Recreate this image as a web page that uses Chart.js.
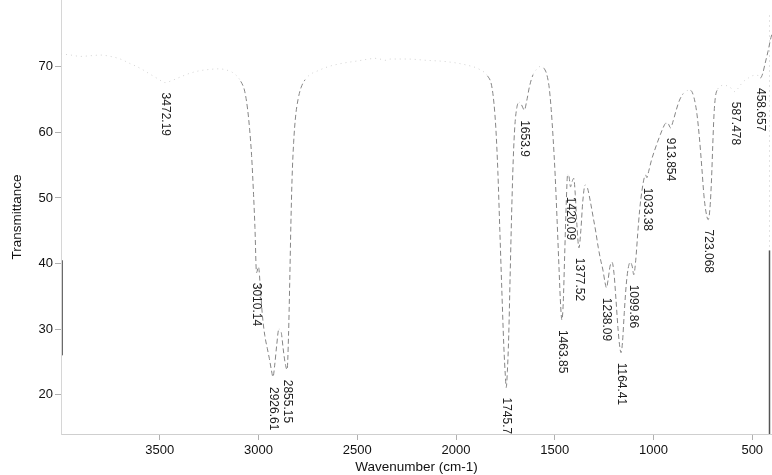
<!DOCTYPE html>
<html>
<head>
<meta charset="utf-8">
<script src="https://cdn.jsdelivr.net/npm/chart.js@4/dist/chart.umd.min.js"></script>
<style>
  html, body { margin: 0; padding: 0; background: #fff; }
  #wrap { width: 772px; height: 475px; }
</style>
</head>
<body>
<div id="wrap"><canvas id="ir" width="772" height="475"></canvas></div>
<script>
// FT-IR spectrum: wavenumber (cm-1) against % transmittance
const wavenumbers = [
  4000, 3950, 3900, 3850, 3800, 3750, 3700, 3650, 3600, 3550, 3510, 3472.19, 3440, 3400,
  3350, 3300, 3250, 3200, 3150, 3120, 3090, 3070, 3055, 3045, 3035, 3025, 3018, 3010.14,
  3000, 2990, 2980, 2968, 2955, 2945, 2935, 2926.61, 2918, 2908, 2897, 2885, 2875, 2866,
  2855.15, 2848, 2842, 2836, 2830, 2822, 2812, 2800, 2785, 2765, 2740, 2700, 2650, 2600,
  2500, 2400, 2360, 2330, 2250, 2150, 2050, 1950, 1880, 1840, 1820, 1808, 1798, 1788,
  1778, 1768, 1758, 1750, 1745.7, 1740, 1733, 1726, 1718, 1710, 1702, 1692, 1680, 1668,
  1653.9, 1642, 1628, 1610, 1590, 1570, 1555, 1540, 1528, 1518, 1508, 1498, 1488, 1478,
  1470, 1463.85, 1457, 1450, 1442, 1435, 1428, 1420.09, 1412, 1404, 1396, 1388, 1377.52,
  1368, 1358, 1346, 1334, 1320, 1305, 1292, 1280, 1268, 1256, 1246, 1238.09, 1230, 1220,
  1210, 1200, 1190, 1180, 1172, 1164.41, 1157, 1148, 1138, 1128, 1118, 1108, 1099.86,
  1090, 1080, 1070, 1058, 1046, 1040, 1033.38, 1025, 1010, 995, 980, 965, 950, 938, 925,
  913.854, 900, 885, 870, 850, 830, 812, 795, 780, 767, 755, 745, 735, 723.068, 714, 706,
  700, 694, 687, 675, 660, 640, 620, 605, 587.478, 570, 550, 520, 490, 470, 458.657, 448,
  435, 420, 405, 400
];
const transmittance = [
  72.0, 71.8, 71.6, 71.7, 71.8, 71.6, 71.2, 70.5, 69.8, 68.9, 68.2, 67.6, 67.9, 68.4,
  69.0, 69.4, 69.6, 69.7, 69.4, 68.9, 67.8, 66.3, 63.5, 60.5, 56.5, 50.5, 45.5, 38.6,
  39.5, 36.0, 32.0, 29.0, 27.0, 25.5, 23.8, 22.7, 24.5, 27.5, 30.0, 29.5, 27.0, 25.0,
  23.8, 29.0, 37.0, 46.0, 53.0, 58.5, 62.5, 65.0, 66.8, 68.0, 68.8, 69.4, 70.0, 70.4,
  70.9, 71.3, 71.0, 71.2, 71.2, 71.0, 70.8, 70.3, 69.6, 68.6, 67.2, 64.5, 60.5, 54.0,
  45.0, 36.0, 27.5, 22.8, 21.1, 23.5, 29.0, 38.0, 48.0, 56.0, 61.0, 63.8, 64.6, 64.2,
  63.4, 64.8, 67.0, 68.8, 69.7, 70.1, 69.8, 68.8, 66.8, 63.5, 59.0, 53.5, 46.5, 39.0,
  33.5, 31.4, 34.0, 41.0, 49.0, 53.5, 53.3, 51.7, 52.5, 53.0, 50.5, 46.0, 42.4,
  45.0, 49.5, 52.0, 51.5, 49.5, 47.0, 44.8, 42.5, 40.6, 39.0, 37.2, 36.3, 37.5, 39.6,
  40.2, 38.5, 34.5, 30.2, 27.6, 26.4, 28.0, 32.5, 36.8, 39.3, 40.2, 39.6, 38.3,
  40.5, 44.5, 48.2, 51.2, 53.2, 53.5, 53.1, 54.0, 55.8, 57.2, 58.5, 59.7, 60.8, 61.4, 61.3,
  60.7, 61.8, 63.4, 64.8, 65.9, 66.4, 66.4, 65.3, 62.8, 59.0, 54.5, 50.5, 48.0, 46.7, 48.5, 53.0,
  58.0, 62.5, 65.3, 66.6, 67.1, 67.2, 67.0, 66.7, 66.2, 66.8, 67.6, 68.3, 68.7, 68.7, 68.3, 68.9,
  70.5, 72.4, 74.5, 75.0
];

// Peak positions that are annotated on the plot
const peakWavenumbers = [
  3472.19, 3010.14, 2926.61, 2855.15, 1745.7, 1653.9, 1463.85, 1420.09, 1377.52,
  1238.09, 1164.41, 1099.86, 1033.38, 913.854, 723.068, 587.478, 458.657
];

const xTickValues = [3500, 3000, 2500, 2000, 1500, 1000, 500];
const yTickValues = [20, 30, 40, 50, 60, 70];

const FONT = '"Liberation Sans", Arial, sans-serif';

// Rotated peak labels hanging just below each annotated minimum
const peakLabels = {
  id: 'peakLabels',
  afterDatasetsDraw(chart) {
    const meta = chart.getDatasetMeta(0);
    const ctx = chart.ctx;
    ctx.save();
    ctx.font = '12px ' + FONT;
    ctx.fillStyle = '#1e1e1e';
    ctx.textBaseline = 'middle';
    ctx.textAlign = 'left';
    peakWavenumbers.forEach(wn => {
      const i = wavenumbers.indexOf(wn);
      const pt = meta.data[i];
      ctx.save();
      ctx.translate(pt.x, pt.y + 10);
      ctx.rotate(Math.PI / 2);
      ctx.fillText(String(wn), 0, 0);
      ctx.restore();
    });
    ctx.restore();
  }
};

// Plot frame: faint axis lines with the darker stretches of the frame edges
const frame = {
  id: 'frame',
  beforeDatasetsDraw(chart) {
    const {ctx, chartArea: a, scales: {y}} = chart;
    ctx.save();
    ctx.lineWidth = 1;
    // left axis, darker section
    ctx.strokeStyle = '#6a6a6a';
    ctx.beginPath();
    ctx.moveTo(a.left + 1.5, y.getPixelForValue(40.5));
    ctx.lineTo(a.left + 1.5, y.getPixelForValue(26));
    ctx.stroke();
    // right edge of the frame
    ctx.setLineDash([2, 3]);
    ctx.strokeStyle = '#e2e2e2';
    ctx.beginPath();
    ctx.moveTo(a.right - 2.5, a.top + 15);
    ctx.lineTo(a.right - 2.5, y.getPixelForValue(42));
    ctx.stroke();
    ctx.setLineDash([]);
    ctx.strokeStyle = '#555';
    ctx.lineWidth = 1.5;
    ctx.beginPath();
    ctx.moveTo(a.right - 2.5, y.getPixelForValue(42));
    ctx.lineTo(a.right - 2.5, a.bottom);
    ctx.stroke();
    ctx.restore();
  }
};

const steep = c => Math.abs(c.p1.y - c.p0.y) > 1.5 * Math.abs(c.p1.x - c.p0.x);

new Chart(document.getElementById('ir'), {
  type: 'line',
  data: {
    datasets: [{
      data: wavenumbers.map((w, i) => ({x: w, y: transmittance[i]})),
      borderColor: '#b0b0b0',
      borderWidth: 1,
      pointRadius: 0,
      fill: false,
      cubicInterpolationMode: 'monotone',
      segment: {
        borderColor: c => steep(c) ? '#858585' : '#d2d2d2',
        borderDash: c => steep(c) ? [5, 3] : [1, 4]
      }
    }]
  },
  options: {
    responsive: false,
    animation: false,
    layout: {padding: 0},
    plugins: {legend: {display: false}, tooltip: {enabled: false}},
    scales: {
      x: {
        type: 'linear',
        reverse: true,
        min: 400,
        max: 4000,
        afterBuildTicks: s => { s.ticks = xTickValues.map(v => ({value: v})); },
        afterFit: s => { s.height = 41; s.paddingLeft = 0; s.paddingRight = 0; },
        grid: {drawOnChartArea: false, drawTicks: true, tickLength: 6, color: '#b0b0b0'},
        border: {display: true, color: '#cfcfcf', dash: [2, 3]},
        ticks: {color: '#111', padding: 3, maxRotation: 0, font: {family: FONT, size: 13},
                callback: v => String(v)},
        title: {display: true, text: 'Wavenumber (cm-1)', color: '#111',
                font: {family: FONT, size: 13.5}, padding: {top: 0, bottom: 0}}
      },
      y: {
        min: 14,
        max: 80.2,
        afterBuildTicks: s => { s.ticks = yTickValues.map(v => ({value: v})); },
        afterFit: s => { s.width = 61; s.paddingTop = 0; s.paddingBottom = 0; },
        grid: {drawOnChartArea: false, drawTicks: true, tickLength: 6, color: '#b0b0b0'},
        border: {display: true, color: '#d6d6d6', dash: [2, 3]},
        ticks: {color: '#111', padding: 2, font: {family: FONT, size: 13},
                callback: v => String(v)},
        title: {display: true, text: 'Transmittance', color: '#111',
                font: {family: FONT, size: 13.5}, padding: {top: 9, bottom: 0}}
      }
    }
  },
  plugins: [frame, peakLabels]
});
</script>
</body>
</html>
